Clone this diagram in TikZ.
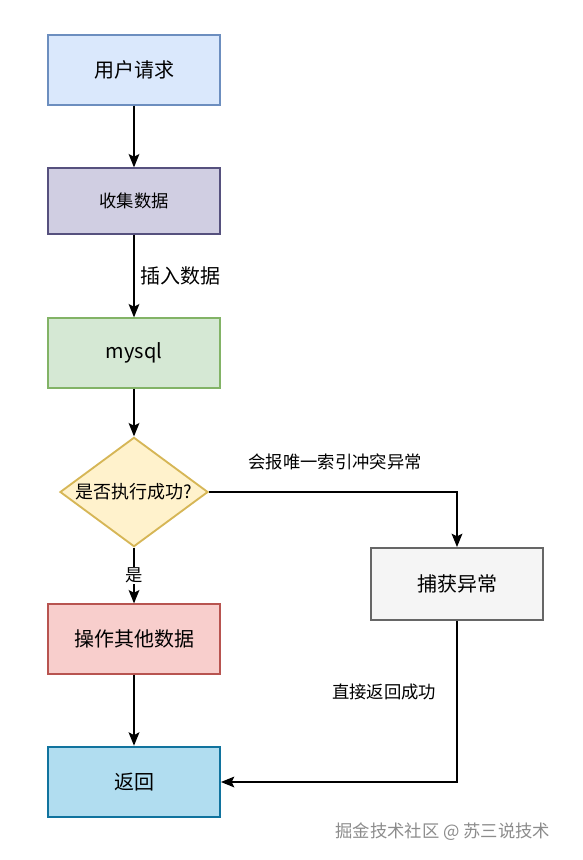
\documentclass[tikz,border=0pt]{standalone}
\usepackage{fontspec}
\setmainfont{Noto Sans CJK SC}
\usetikzlibrary{arrows.meta,shapes.geometric}
\definecolor{bluefill}{HTML}{DAE8FC}\definecolor{bluedraw}{HTML}{6C8EBF}
\definecolor{purplefill}{HTML}{D0CEE2}\definecolor{purpledraw}{HTML}{56517E}
\definecolor{greenfill}{HTML}{D5E8D4}\definecolor{greendraw}{HTML}{82B366}
\definecolor{yellowfill}{HTML}{FFF2CC}\definecolor{yellowdraw}{HTML}{D6B656}
\definecolor{grayfill}{HTML}{F5F5F5}\definecolor{graydraw}{HTML}{666666}
\definecolor{redfill}{HTML}{F8CECC}\definecolor{reddraw}{HTML}{B85450}
\definecolor{cyanfill}{HTML}{B1DDF0}\definecolor{cyandraw}{HTML}{10739E}
\tikzset{
  stepbox/.style={draw,line width=1.4pt,minimum width=129pt,minimum height=52pt,inner sep=0pt,font=\fontsize{15}{18}\selectfont},
  flow/.style={line width=1.5pt,-{Stealth[length=10pt,width=8pt,inset=2pt]}},
  edgelabel/.style={font=\fontsize{13}{16}\selectfont}
}
\begin{document}
\begin{tikzpicture}[x=0.75pt,y=-0.75pt]
  \useasboundingbox (0,0) rectangle (582,860);
  \node[stepbox,fill=bluefill,draw=bluedraw] (req) at (134,70) {用户请求};
  \node[stepbox,fill=purplefill,draw=purpledraw,font=\fontsize{13}{16}\selectfont,minimum height=49pt] (collect) at (134,201) {收集数据};
  \node[stepbox,fill=greenfill,draw=greendraw] (mysql) at (134,353) {mysql};
  \node[draw=yellowdraw,fill=yellowfill,line width=1.4pt,diamond,aspect=1.35,minimum width=111pt,minimum height=82pt,inner sep=0pt,font=\fontsize{13.5}{16}\selectfont] (check) at (134,492) {是否执行成功?};
  \node[stepbox,fill=grayfill,draw=graydraw,minimum height=54pt] (catch) at (457,584) {捕获异常};
  \node[stepbox,fill=redfill,draw=reddraw] (other) at (134,639) {操作其他数据};
  \node[stepbox,fill=cyanfill,draw=cyandraw,minimum height=53pt] (ret) at (134,782) {返回};
  % connectors
  \draw[flow] (req) -- (collect);
  \draw[flow] (collect) -- node[edgelabel,font=\fontsize{15}{18}\selectfont,right,xshift=1pt] (insertlbl) {插入数据} (mysql);
  \draw[flow] (mysql) -- (check);
  \draw[flow] (check) -- node[edgelabel,fill=white,inner sep=1pt] (yeslbl) {是} (other);
  \draw[flow] (check.east) -| (catch.north);
  \node[edgelabel] (errlbl) at (335,462) {会报唯一索引冲突异常};
  \draw[flow] (other) -- (ret);
  \draw[flow] (catch.south) |- (ret.east);
  \node[edgelabel] (oklbl) at (384,692) {直接返回成功};
  \node[font=\fontsize{13}{16}\selectfont,text=black!45,anchor=east] (mark) at (555,832) {掘金技术社区 @ 苏三说技术};
\end{tikzpicture}
\end{document}
